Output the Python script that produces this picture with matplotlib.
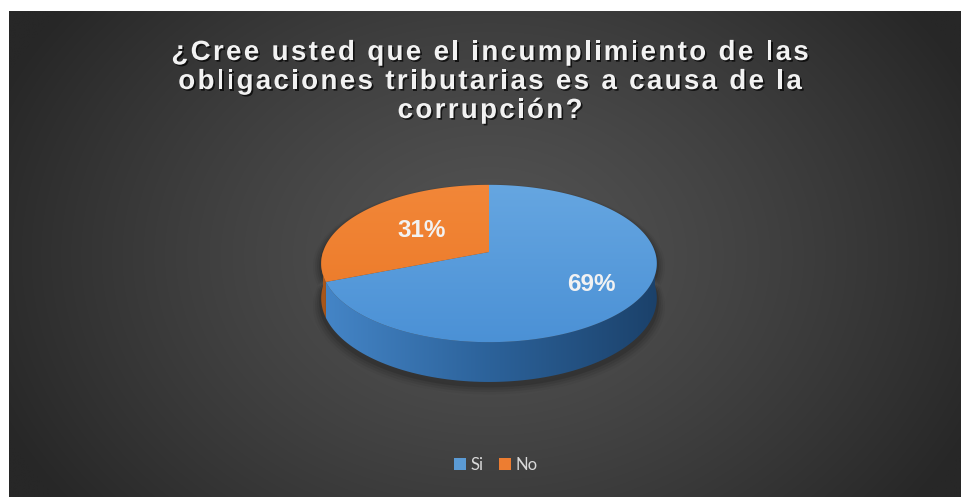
"""
Gráfico de pastel 3D: ¿Cree usted que el incumplimiento de las
obligaciones tributarias es a causa de la corrupción?
"""

import numpy as np
import matplotlib.pyplot as plt
import matplotlib.patheffects as pe
from matplotlib.patches import Polygon, Patch
from matplotlib.font_manager import FontProperties
from matplotlib.colors import to_rgb

# Datos
categorias = ['Si', 'No']
porcentajes = [69, 31]
colores_sup = [('#68a8e2', '#4a90d5'), ('#f3883a', '#ea7725')]
colores_lado = [('#4586c8', '#2c629a', '#1b416a'), ('#a8561a', '#a8561a', '#a8561a')]
colores_leyenda = ['#5b9bd5', '#ed7d31']
radio_etiqueta = {'Si': 0.70, 'No': 0.51}
titulo = ['¿Cree usted que el incumplimiento de las',
          'obligaciones tributarias es a causa de la',
          'corrupción?']

W, H = 962, 497
cx, cy = 489, 252          # centro del pastel (px)
A, B, P, D = 166, 77, 0.146, 34   # semiejes, perspectiva, grosor


def proyectar(t, r=1.0, z=0.0):
    """Punto del disco (ángulo t, radio r) proyectado con perspectiva."""
    c, s = r * np.cos(t), r * np.sin(t)
    den = 1 + P * s
    return cx + A * c / den, cy - B * s / den + D * z / den


def mezcla(cols, n):
    """Gradiente lineal entre varios colores."""
    cols = np.array([to_rgb(c) for c in cols])
    pos = np.linspace(0, 1, len(cols))
    x = np.linspace(0, 1, n)
    return np.stack([np.interp(x, pos, cols[:, k]) for k in range(3)], axis=-1)


fig = plt.figure(figsize=(W / 100, H / 100), dpi=100, facecolor='white')
ax = fig.add_axes([0, 0, 1, 1])
ax.set_xlim(0, W)
ax.set_ylim(H, 0)
ax.axis('off')

# Fondo con degradado radial
yy, xx = np.mgrid[0:H, 0:W]
r = np.clip(np.hypot((xx - 485) / 540, (yy - 250) / 420), 0, 1)
v = (0x53 - (0x53 - 0x27) * r ** 1.3) / 255
fondo = np.dstack([v, v, v])
ax.imshow(fondo, extent=[9, W, H, 11], zorder=0, interpolation='bilinear')

# Ángulos de cada porción (empieza a las 12, sentido horario)
fracciones = np.array(porcentajes) / sum(porcentajes)
inicio = np.pi / 2
angulos = []
for f in fracciones:
    angulos.append((inicio - 2 * np.pi * f, inicio))
    inicio -= 2 * np.pi * f

# Sombra suave
tt = np.linspace(0, 2 * np.pi, 200)
for k, a in enumerate([0.10, 0.08, 0.06, 0.04]):
    esc = 1.0 + 0.012 * (k + 1)
    xs, ys = proyectar(tt, esc, 0)
    xb, yb = proyectar(tt, esc, 1.05)
    pts = np.column_stack([np.r_[xs, xb[::-1]], np.r_[ys + 2, yb[::-1] + 2 + k]])
    ax.add_patch(Polygon(pts, closed=True, facecolor='black', alpha=a,
                         edgecolor='none', zorder=1))

# Caras laterales (mitad frontal)
for (t1, t2), cols in zip(angulos, colores_lado):
    for base in (-2 * np.pi, 0):
        a1, a2 = max(t1, np.pi + base), min(t2, 2 * np.pi + base)
        if a2 <= a1:
            continue
        t = np.linspace(a1, a2, 100)
        xs, ys = proyectar(t, 1, 0)
        xb, yb = proyectar(t, 1, 1)
        pts = np.column_stack([np.r_[xs, xb[::-1]], np.r_[ys, yb[::-1]]])
        poly = Polygon(pts, closed=True, facecolor='none', edgecolor='none')
        ax.add_patch(poly)
        grad = mezcla(cols, 256)[None, :, :]
        im = ax.imshow(grad, extent=[cx - A * 1.02, cx + A * 1.02, cy + B + 60, cy - B],
                       aspect='auto', zorder=2, interpolation='bilinear')
        im.set_clip_path(poly)

# Caras superiores
for (t1, t2), cols in zip(angulos, colores_sup):
    t = np.linspace(t1, t2, 200)
    xs, ys = proyectar(t)
    pts = np.column_stack([np.r_[cx, xs], np.r_[cy, ys]])
    poly = Polygon(pts, closed=True, facecolor='none', edgecolor='none')
    ax.add_patch(poly)
    grad = mezcla(cols, 256)[:, None, :]
    im = ax.imshow(grad, extent=[cx - A * 1.02, cx + A * 1.02, cy + B + 20, cy - B - 5],
                   aspect='auto', zorder=3, interpolation='bilinear')
    im.set_clip_path(poly)

# Etiquetas de porcentaje
for cat, pct, (t1, t2) in zip(categorias, porcentajes, angulos):
    x, y = proyectar((t1 + t2) / 2, radio_etiqueta[cat])
    ax.text(x, y, f'{pct}%', ha='center', va='center', fontsize=17.5,
            fontweight='bold', family='Liberation Sans', color='#f2f2f2', zorder=5)

# Título con espaciado entre letras
fp = FontProperties(family='Liberation Sans', weight='bold', size=20)
fig.canvas.draw()
rend = fig.canvas.get_renderer()


def ancho(s):
    return rend.get_text_width_height_descent(s, fp, ismath=False)[0]


espacio = 2.3
sombra = [pe.withSimplePatchShadow(offset=(1.2, -1.2), shadow_rgbFace='black', alpha=0.7)]
for i, linea in enumerate(titulo):
    base = ancho('||')
    avances = [ancho('|' + ch + '|') - base for ch in linea]
    total = sum(avances) + espacio * (len(linea) - 1)
    x = 490 - total / 2
    y = 60 + 29 * i
    for ch, av in zip(linea, avances):
        ax.text(x, y, ch, ha='left', va='baseline', fontproperties=fp,
                color='#f2f2f2', zorder=6, path_effects=sombra)
        x += av + espacio

# Leyenda
manejadores = [Patch(facecolor=c, edgecolor='none', label=l)
               for c, l in zip(colores_leyenda, categorias)]
leg = ax.legend(handles=manejadores, loc='center', bbox_to_anchor=(496 / W, 1 - 465 / H),
                ncol=2, frameon=False, handlelength=0.7, handleheight=0.7,
                handletextpad=0.3, columnspacing=0.9, labelcolor='#d9d9d9',
                prop={'family': 'Lato', 'size': 12})

fig.savefig('out.png', dpi=100, facecolor='white')
